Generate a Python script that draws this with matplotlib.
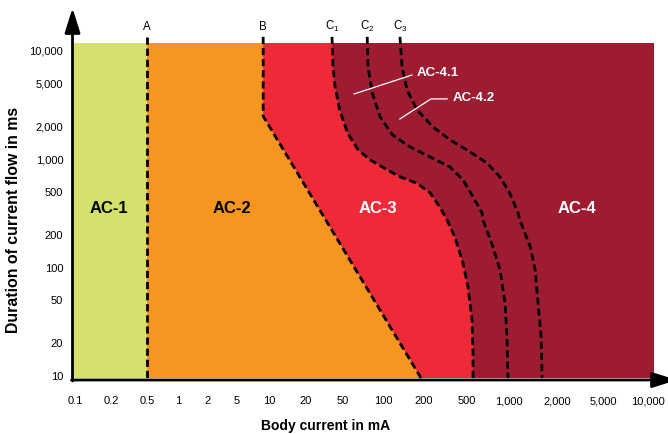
import numpy as np
import matplotlib
matplotlib.use('Agg')
import matplotlib.pyplot as plt


# DATA

x_ticks = [0.1, 0.2, 0.5, 1, 2, 5, 10, 20, 50, 100, 200, 500, 1000, 2000, 5000, 10000]
x_tick_labels = ['0.1', '0.2', '0.5', '1', '2', '5', '10', '20', '50', '100', '200',
                 '500', '1,000', '2,000', '5,000', '10,000']
y_ticks = [10, 20, 50, 100, 200, 500, 1000, 2000, 5000, 10000]
y_tick_labels = ['10', '20', '50', '100', '200', '500', '1,000', '2,000', '5,000', '10,000']

# boundary curves, body current (mA) vs duration (ms)
a_x = [0.5, 0.5]
a_y = [13500, 9.58]
b_x = [8.8, 8.8, 190]
b_y = [13500, 2500, 9.58]
c1_x = [38, 39, 41, 46, 54, 65, 80, 107, 133, 178, 228, 281, 327, 387, 459, 508, 543, 552, 552]
c1_y = [13500, 7100, 4650, 2850, 1750, 1220, 990, 800, 690, 600, 490, 360, 275, 190, 110, 66, 33, 16, 9.58]
c2_x = [76, 77, 83, 95, 118, 158, 228, 348, 459, 552, 641, 651, 768, 862, 936, 967, 982]
c2_y = [13500, 7100, 4100, 2460, 1670, 1300, 1050, 850, 645, 450, 320, 275, 155, 95, 47, 23, 9.58]
c3_x = [133, 138, 150, 178, 242, 348, 500, 695, 862, 1010, 1140, 1170, 1360, 1460, 1520, 1590, 1610]
c3_y = [13500, 7100, 4360, 2850, 1990, 1510, 1220, 925, 687, 489, 319, 275, 155, 95, 47, 23, 9.58]

zones = ['AC-1', 'AC-2', 'AC-3', 'AC-4']

# the x axis of the original is not a clean log axis, ticks sit at these pixel columns
x_tick_pos = [75, 111, 147, 178, 207, 237, 269, 306, 343, 383, 424, 467, 509, 557, 603, 648]

knots = np.log10(x_ticks)
pos = np.array(x_tick_pos, float)
s0 = (pos[1] - pos[0]) / (knots[1] - knots[0])
s1 = (pos[-1] - pos[-2]) / (knots[-1] - knots[-2])
kl = np.r_[knots[0] - 10, knots, knots[-1] + 10]
pl = np.r_[pos[0] - 10 * s0, pos, pos[-1] + 10 * s1]


def fwd(x):
    x = np.asarray(x, float)
    return np.interp(np.log10(np.clip(x, 1e-12, None)), kl, pl)


def inv(p):
    return 10 ** np.interp(np.asarray(p, float), pl, kl)


# colours
c_ac1 = '#D5DF6B'
c_ac2 = '#F6951F'
c_ac3 = '#EE2A38'
c_ac4 = '#9E1C32'

plain = ['Liberation Sans', 'DejaVu Sans']

W, H = 668, 434
fig = plt.figure(figsize=(W / 100, H / 100), dpi=100)
ax = fig.add_axes([73 / W, 1 - 378 / H, (654 - 73) / W, (378 - 43) / H])
ax.set_xscale('function', functions=(fwd, inv))
ax.set_yscale('log')
ax.set_xlim(0.096, 10970)
ax.set_ylim(9.58, 11850)
ax.set_facecolor(c_ac4)
for s in ax.spines.values():
    s.set_visible(False)

xmin = 0.05
# layered regions, right to left
ax.fill([xmin] + c1_x + [xmin], [c1_y[0]] + c1_y + [c1_y[-1]], color=c_ac3, lw=0)
ax.fill([xmin] + b_x + [xmin], [b_y[0]] + b_y + [b_y[-1]], color=c_ac2, lw=0)
ax.fill([xmin] + a_x + [xmin], [a_y[0]] + a_y + [a_y[-1]], color=c_ac1, lw=0)

dash = (0, (2.6, 1.4))
for xs, ys in [(a_x, a_y), (b_x, b_y), (c1_x, c1_y), (c2_x, c2_y), (c3_x, c3_y)]:
    ax.plot(xs, ys, color='black', lw=2, ls=dash, clip_on=False, solid_capstyle='butt')

# curve names above the plot
for xv, name in [(0.5, 'A'), (8.8, 'B'), (38, r'$\mathregular{C_1}$'),
                 (76, r'$\mathregular{C_2}$'), (133, r'$\mathregular{C_3}$')]:
    ax.text(xv, 15500, name, ha='center', va='baseline', fontsize=8.3, family=plain)

# zone names
ax.text(0.19, 350, zones[0], ha='center', va='center', fontsize=12, fontweight='bold', family=plain)
ax.text(4.3, 350, zones[1], ha='center', va='center', fontsize=12, fontweight='bold', family=plain)
ax.text(92, 350, zones[2], ha='center', va='center', fontsize=12, fontweight='bold',
        family=plain, color='white')
ax.text(2980, 350, zones[3], ha='center', va='center', fontsize=12, fontweight='bold',
        family=plain, color='white')

# sub zones with leader lines
ax.plot([60.5, 163], [4010, 6000], color='white', lw=0.9)
ax.text(178, 6270, 'AC-4.1', ha='left', va='center', fontsize=9.5, fontweight='bold',
        family=plain, color='white')
ax.plot([133, 232, 327], [2360, 3610, 3610], color='white', lw=0.9)
ax.text(371, 3680, 'AC-4.2', ha='left', va='center', fontsize=9.5, fontweight='bold',
        family=plain, color='white')

ax.set_xticks(x_ticks, x_tick_labels)
ax.set_yticks(y_ticks, y_tick_labels)
ax.minorticks_off()
ax.tick_params(axis='x', length=0, pad=13, labelsize=8)
ax.tick_params(axis='y', length=0, pad=7, labelsize=8)
for lab in ax.get_xticklabels() + ax.get_yticklabels():
    lab.set_family(plain)

# axis arrows
arrow = dict(arrowstyle='-|>,head_length=1.5,head_width=0.47', lw=2, color='black',
             shrinkA=0, shrinkB=0, mutation_scale=10)
ax.annotate('', xy=(72.5, H - 8), xytext=(72.5, H - 381), xycoords='figure pixels',
            textcoords='figure pixels', arrowprops=arrow)
ax.annotate('', xy=(677, H - 380), xytext=(71.5, H - 380), xycoords='figure pixels',
            textcoords='figure pixels', arrowprops=arrow)

fig.text(14 / W, 1 - 220 / H, 'Duration of current flow in ms', rotation=90, ha='center',
         va='center', fontsize=11.4, fontweight='bold', family=plain)
fig.text(326 / W, 1 - 426 / H, 'Body current in mA', ha='center', va='center',
         fontsize=10, fontweight='bold', family=plain)

fig.savefig('out.png', dpi=100)
